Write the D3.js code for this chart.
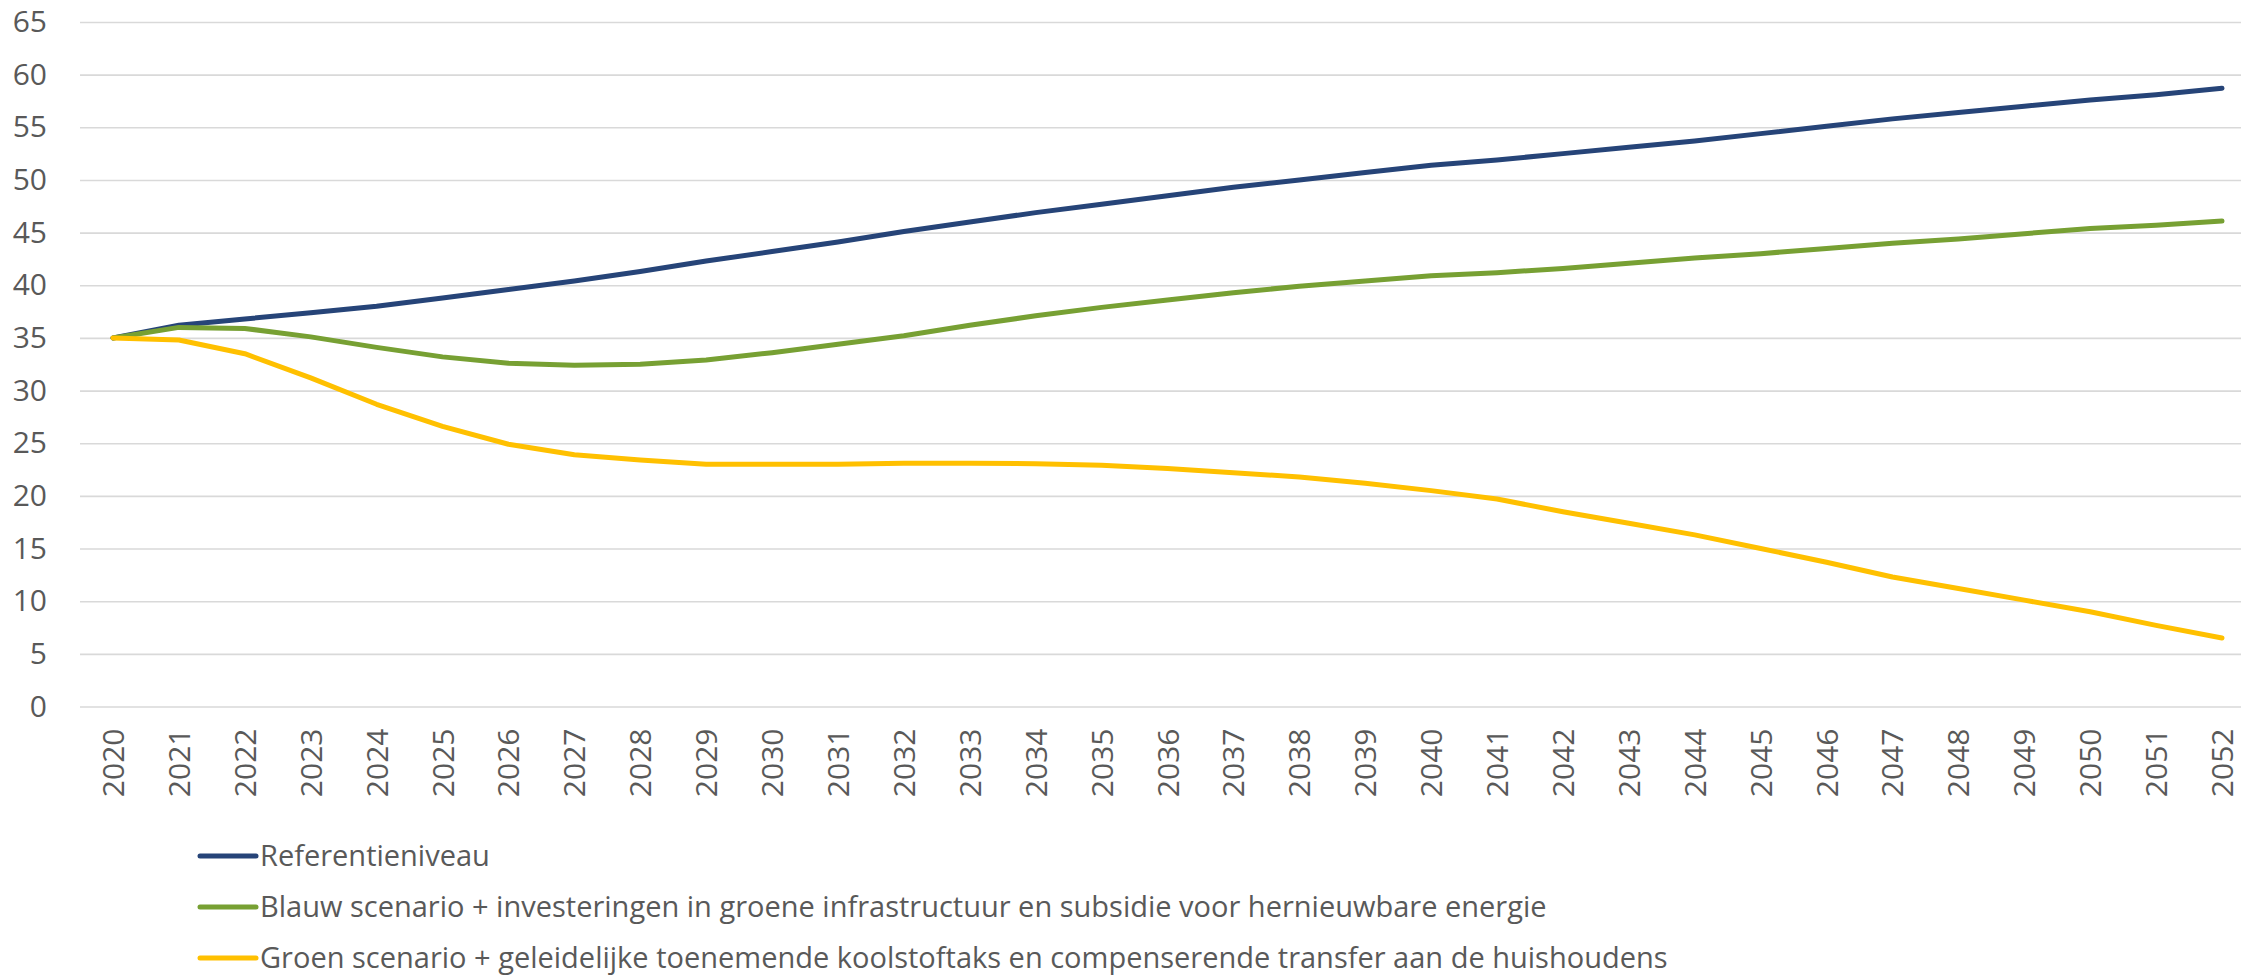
<!DOCTYPE html>
<html>
<head>
<meta charset="utf-8">
<script src="https://cdn.jsdelivr.net/npm/d3@7"></script>
<style>
  body { margin: 0; background: #fff; }
  svg text { font-family: "Open Sans", "Noto Sans", sans-serif; fill: #595959; }
</style>
</head>
<body>
<script>
let years = d3.range(2020, 2053).map(String);
let yTicks = [0, 5, 10, 15, 20, 25, 30, 35, 40, 45, 50, 55, 60, 65];

let referentie = [35.0, 36.2, 36.8, 37.4, 38.0, 38.8, 39.6, 40.4, 41.3, 42.3, 43.2,
	44.1, 45.1, 46.0, 46.9, 47.7, 48.5, 49.3, 50.0, 50.7, 51.4, 51.9, 52.5,
	53.1, 53.7, 54.4, 55.1, 55.8, 56.4, 57.0, 57.6, 58.1, 58.7];
let blauw = [35.0, 36.0, 35.9, 35.1, 34.1, 33.2, 32.6, 32.4, 32.5, 32.9, 33.6,
	34.4, 35.2, 36.2, 37.1, 37.9, 38.6, 39.3, 39.9, 40.4, 40.9, 41.2, 41.6,
	42.1, 42.6, 43.0, 43.5, 44.0, 44.4, 44.9, 45.4, 45.7, 46.1];
let groen = [35.0, 34.8, 33.5, 31.2, 28.7, 26.6, 24.9, 23.9, 23.4, 23.0, 23.0,
	23.0, 23.1, 23.1, 23.05, 22.9, 22.6, 22.2, 21.8, 21.2, 20.5, 19.7, 18.5,
	17.4, 16.3, 15.0, 13.7, 12.3, 11.2, 10.1, 9.0, 7.7, 6.5];

let seriesNames = [
	"Referentieniveau",
	"Blauw scenario + investeringen in groene infrastructuur en subsidie voor hernieuwbare energie",
	"Groen scenario + geleidelijke toenemende koolstoftaks en compenserende transfer aan de huishoudens"
];
let seriesColors = ["#264478", "#77A033", "#FFC000"];

let series = [referentie, blauw, groen].map((vals, k) => ({
	name: seriesNames[k],
	color: seriesColors[k],
	values: vals.map((v, i) => ({year: years[i], value: v}))
}));

let width = 2241;
let height = 976;
let gridLeft = 80;

let xScale = d3.scalePoint()
				.domain(years)
				.range([113, 2222]);

let yScale = d3.scaleLinear()
				.domain([0, 65])
				.range([706.5, 22]);

let svg = d3.select("body").append("svg").attr("width", width).attr("height", height);

// y axis + gridlines
let yAxis = d3.axisLeft(yScale)
			  .tickValues(yTicks)
			  .tickSize(-(width - gridLeft))
			  .tickPadding(33);

let gy = svg.append("g")
	.attr("transform", `translate(${gridLeft},0)`)
	.call(yAxis);
gy.select(".domain").remove();
gy.selectAll(".tick line").attr("stroke", "#d9d9d9").attr("stroke-width", 1.6);
gy.selectAll(".tick text").attr("font-size", 30).attr("fill", "#595959");

// x axis labels
let xAxis = d3.axisBottom(xScale).tickSize(0);
let gx = svg.append("g")
	.attr("transform", "translate(0,706.5)")
	.call(xAxis);
gx.select(".domain").remove();
gx.selectAll(".tick text")
	.attr("font-size", 30)
	.attr("fill", "#595959")
	.attr("transform", "rotate(-90)")
	.attr("text-anchor", "end")
	.attr("x", -22)
	.attr("y", 0)
	.attr("dy", "0.35em");

// lines
let line = d3.line()
			 .x((d) => xScale(d.year))
			 .y((d) => yScale(d.value));

svg.append("g").selectAll("path")
	.data(series)
	.enter()
	.append("path")
	.attr("d", (d) => line(d.values))
	.attr("fill", "none")
	.attr("stroke", (d) => d.color)
	.attr("stroke-width", 5)
	.attr("stroke-linecap", "round")
	.attr("stroke-linejoin", "round");

// legend
let legend = svg.append("g").selectAll("g")
	.data(series)
	.enter()
	.append("g")
	.attr("transform", (d, i) => `translate(200,${856 + i * 51})`);

legend.append("line")
	.attr("x1", 0).attr("x2", 56)
	.attr("stroke", (d) => d.color)
	.attr("stroke-width", 5)
	.attr("stroke-linecap", "round");

legend.append("text")
	.attr("x", 60)
	.attr("dy", "0.35em")
	.attr("font-size", 29)
	.text((d) => d.name);
</script>
</body>
</html>
